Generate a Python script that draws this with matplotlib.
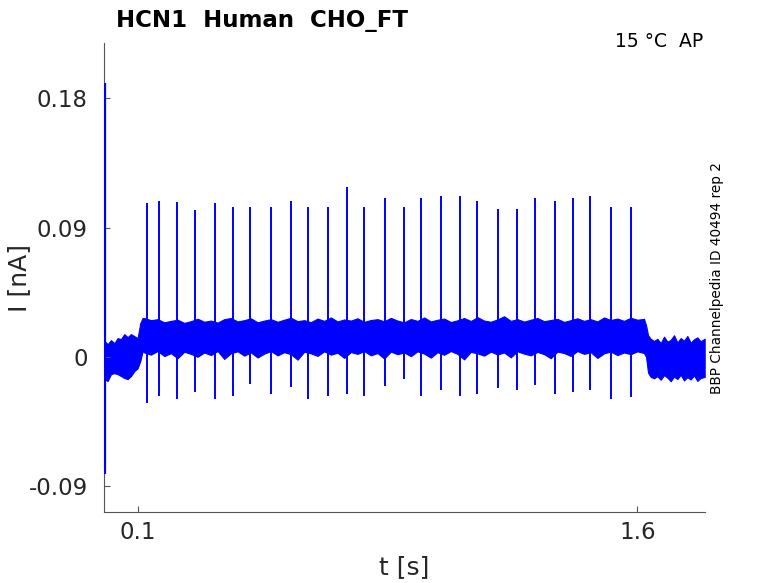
import matplotlib
matplotlib.use("Agg")
import matplotlib.pyplot as plt

# ---------------- text ----------------
title = "HCN1  Human  CHO_FT"
condition_text = "15 °C  AP"
side_text = "BBP Channelpedia ID 40494 rep 2"
x_label = "t [s]"
y_label = "I [nA]"
x_ticks = [0.1, 1.6]
x_tick_labels = ["0.1", "1.6"]
y_ticks = [-0.09, 0.0, 0.09, 0.18]
y_tick_labels = ["-0.09", "0", "0.09", "0.18"]

# ---------------- spikes (time, peak, trough) ----------------
spike_t = [0.1282, 0.1642, 0.2191, 0.2710, 0.3322, 0.3871, 0.4381, 0.5011, 0.5611,
           0.6121, 0.6721, 0.7282, 0.7801, 0.8431, 0.9001, 0.9511, 1.0120, 1.0681,
           1.1191, 1.1821, 1.2400, 1.2922, 1.3522, 1.4080, 1.4590, 1.5220, 1.5802]
spike_peak = [0.1071, 0.1087, 0.1076, 0.1024, 0.1071, 0.1041, 0.1041, 0.1041, 0.1087,
              0.1043, 0.1041, 0.1182, 0.1041, 0.1103, 0.1043, 0.1103, 0.1119, 0.1119,
              0.1087, 0.1027, 0.1027, 0.1103, 0.1087, 0.1103, 0.1119, 0.1043, 0.1043]
spike_trough = [-0.0320, -0.0274, -0.0293, -0.0246, -0.0293, -0.0274, -0.0192, -0.0262, -0.0211,
                -0.0293, -0.0274, -0.0262, -0.0274, -0.0204, -0.0157, -0.0274, -0.0232, -0.0274,
                -0.0258, -0.0216, -0.0232, -0.0199, -0.0262, -0.0244, -0.0232, -0.0293, -0.0279]

# initial capacitive transient
transient_t = [0.0015]
transient_peak = [0.1909]
transient_trough = [-0.0817]

# ---------------- noise band envelope ----------------
pre_t = [0.001, 0.010, 0.020, 0.030, 0.040, 0.050, 0.060, 0.070, 0.080, 0.090, 0.100, 0.108, 0.115]
pre_hi = [0.0109, 0.0088, 0.0116, 0.0095, 0.0130, 0.0123, 0.0158, 0.0137, 0.0158, 0.0144, 0.0130, 0.0235, 0.0270]
pre_lo = [-0.0155, -0.0169, -0.0121, -0.0114, -0.0121, -0.0134, -0.0148, -0.0155, -0.0134, -0.0100, -0.0080, -0.0030, 0.0040]

act_t = [0.12, 0.14, 0.16, 0.18, 0.20, 0.22, 0.24, 0.26, 0.28, 0.30,
         0.32, 0.34, 0.36, 0.38, 0.40, 0.42, 0.44, 0.46, 0.48, 0.50,
         0.52, 0.54, 0.56, 0.58, 0.60, 0.62, 0.64, 0.66, 0.68, 0.70,
         0.72, 0.74, 0.76, 0.78, 0.80, 0.82, 0.84, 0.86, 0.88, 0.90,
         0.92, 0.94, 0.96, 0.98, 1.00, 1.02, 1.04, 1.06, 1.08, 1.10,
         1.12, 1.14, 1.16, 1.18, 1.20, 1.22, 1.24, 1.26, 1.28, 1.30,
         1.32, 1.34, 1.36, 1.38, 1.40, 1.42, 1.44, 1.46, 1.48, 1.50,
         1.52, 1.54, 1.56, 1.58, 1.60, 1.62]
act_hi = [0.0270, 0.0255, 0.0262, 0.0240, 0.0250, 0.0258, 0.0236, 0.0248, 0.0265, 0.0244,
          0.0252, 0.0238, 0.0262, 0.0270, 0.0246, 0.0255, 0.0268, 0.0240, 0.0252, 0.0262,
          0.0244, 0.0258, 0.0272, 0.0248, 0.0255, 0.0241, 0.0266, 0.0250, 0.0274, 0.0246,
          0.0260, 0.0252, 0.0268, 0.0243, 0.0256, 0.0262, 0.0247, 0.0271, 0.0252, 0.0240,
          0.0263, 0.0250, 0.0274, 0.0246, 0.0258, 0.0266, 0.0242, 0.0254, 0.0270, 0.0249,
          0.0276, 0.0252, 0.0244, 0.0260, 0.0282, 0.0250, 0.0262, 0.0245, 0.0258, 0.0270,
          0.0248, 0.0256, 0.0264, 0.0243, 0.0255, 0.0268, 0.0250, 0.0262, 0.0246, 0.0274,
          0.0256, 0.0266, 0.0250, 0.0272, 0.0258, 0.0264]
act_lo = [0.0030, 0.0015, 0.0040, 0.0005, 0.0025, -0.0010, 0.0035, 0.0020, 0.0000, 0.0030,
          0.0012, 0.0040, -0.0015, 0.0025, 0.0038, 0.0008, 0.0030, -0.0005, 0.0022, 0.0040,
          0.0010, 0.0032, 0.0018, -0.0020, 0.0035, 0.0024, 0.0006, 0.0038, 0.0015, 0.0028,
          -0.0008, 0.0033, 0.0020, 0.0040, 0.0010, 0.0026, -0.0012, 0.0036, 0.0018, 0.0030,
          0.0004, 0.0038, 0.0022, -0.0006, 0.0032, 0.0014, 0.0040, 0.0020, -0.0018, 0.0034,
          0.0024, 0.0008, 0.0036, 0.0016, 0.0030, -0.0004, 0.0038, 0.0022, 0.0010, 0.0034,
          0.0018, -0.0010, 0.0036, 0.0026, 0.0006, 0.0040, 0.0020, 0.0032, -0.0008, 0.0024,
          0.0036, 0.0012, 0.0030, 0.0018, 0.0038, 0.0026]

post_t = [1.626, 1.632, 1.640, 1.650, 1.660, 1.670, 1.680, 1.690, 1.700, 1.710, 1.720,
          1.730, 1.740, 1.750, 1.760, 1.770, 1.780, 1.790, 1.802]
post_hi = [0.0220, 0.0150, 0.0125, 0.0110, 0.0125, 0.0095, 0.0140, 0.0105, 0.0118, 0.0150,
           0.0100, 0.0130, 0.0112, 0.0145, 0.0098, 0.0122, 0.0135, 0.0108, 0.0126]
post_lo = [0.0000, -0.0110, -0.0140, -0.0150, -0.0135, -0.0160, -0.0128, -0.0145, -0.0170,
           -0.0138, -0.0155, -0.0125, -0.0165, -0.0142, -0.0158, -0.0130, -0.0168, -0.0148, -0.0140]

band_t = pre_t + act_t + post_t
band_hi = pre_hi + act_hi + post_hi
band_lo = pre_lo + act_lo + post_lo

# ---------------- figure ----------------
W, H = 778, 583
fig = plt.figure(figsize=(W / 100, H / 100), dpi=100)
ax = fig.add_axes([104.3 / W, 1 - 512.3 / H, (705 - 104.3) / W, (512.3 - 43.3) / H])

blue = "#0000ff"
ax.fill_between(band_t, band_lo, band_hi, color=blue, edgecolor=blue, linewidth=0.8)
ax.vlines(spike_t, spike_trough, spike_peak, color=blue, linewidth=1.4)
ax.vlines(transient_t, transient_trough, transient_peak, color=blue, linewidth=1.6, zorder=3)

ax.set_xlim(0.0, 1.803)
ax.set_ylim(-0.1083, 0.2183)

ax.set_xticks(x_ticks)
ax.set_xticklabels(x_tick_labels)
ax.set_yticks(y_ticks)
ax.set_yticklabels(y_tick_labels)

spine_col = "#555555"
text_col = "#262626"
for s in ["top", "right"]:
    ax.spines[s].set_visible(False)
for s in ["left", "bottom"]:
    ax.spines[s].set_color(spine_col)
    ax.spines[s].set_linewidth(0.8)

ax.tick_params(axis="both", direction="in", length=4.2, width=0.8, color=spine_col,
               labelcolor=text_col, labelsize=16.5)
ax.tick_params(axis="y", pad=12)
ax.tick_params(axis="x", pad=6)

fig.text(19 / W, 1 - 278.5 / H, y_label, rotation=90, ha="center", va="center",
         fontsize=18, color=text_col)
fig.text(404.6 / W, 1 - 567 / H, x_label, ha="center", va="center",
         fontsize=18, color=text_col)

fig.text(116 / W, 1 - 27 / H, title, ha="left", va="baseline",
         fontsize=16.5, fontweight="bold", color="black")
fig.text(703 / W, 1 - 47.3 / H, condition_text, ha="right", va="baseline",
         fontsize=13.5, color="black")
fig.text(716.5 / W, 1 - 278.5 / H, side_text, rotation=90, ha="center", va="center",
         fontsize=9.8, color="black")

fig.savefig("out.png", dpi=100)
